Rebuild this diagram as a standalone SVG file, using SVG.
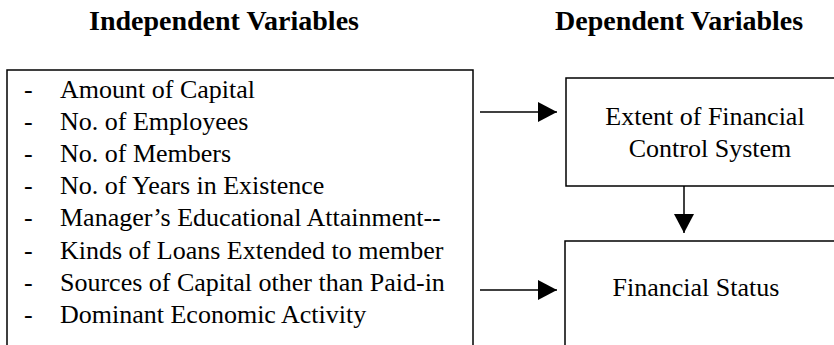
<svg xmlns="http://www.w3.org/2000/svg" width="834" height="345" viewBox="0 0 834 345">
<defs>
<style>
.box{fill:#fff;stroke:#000;stroke-width:1.5}
.c{stroke:#000;stroke-width:1.5;fill:none}
</style>
<marker id="ah" markerWidth="20" markerHeight="20" refX="19" refY="10" orient="auto" markerUnits="userSpaceOnUse">
<path d="M0,0 L19,10 L0,20 Z" fill="#000"/>
</marker>
</defs>
<rect width="834" height="345" fill="#fff"/>
<text font-family="Liberation Serif" font-size="28" font-weight="bold" x="89" y="30">Independent Variables</text>
<text font-family="Liberation Serif" font-size="28" font-weight="bold" x="555" y="30">Dependent Variables</text>
<g id="independent">
<rect class="box" x="7" y="70" width="466" height="290"/>
<text font-family="Liberation Serif" font-size="26" x="24" y="98">-</text>
<text font-family="Liberation Serif" font-size="26" x="60" y="98">Amount of Capital</text>
<text font-family="Liberation Serif" font-size="26" x="24" y="130">-</text>
<text font-family="Liberation Serif" font-size="26" x="60" y="130">No. of Employees</text>
<text font-family="Liberation Serif" font-size="26" x="24" y="162">-</text>
<text font-family="Liberation Serif" font-size="26" x="60" y="162">No. of Members</text>
<text font-family="Liberation Serif" font-size="26" x="24" y="194">-</text>
<text font-family="Liberation Serif" font-size="26" x="60" y="194">No. of Years in Existence</text>
<text font-family="Liberation Serif" font-size="26" x="24" y="226">-</text>
<text font-family="Liberation Serif" font-size="26" x="60" y="226">Manager’s Educational Attainment--</text>
<text font-family="Liberation Serif" font-size="26" x="24" y="259">-</text>
<text font-family="Liberation Serif" font-size="26" x="60" y="259">Kinds of Loans Extended to member</text>
<text font-family="Liberation Serif" font-size="26" x="24" y="291">-</text>
<text font-family="Liberation Serif" font-size="26" x="60" y="291">Sources of Capital other than Paid-in</text>
<text font-family="Liberation Serif" font-size="26" x="24" y="323">-</text>
<text font-family="Liberation Serif" font-size="26" x="60" y="323">Dominant Economic Activity</text>
</g>
<g id="extent">
<rect class="box" x="566" y="78" width="280" height="108"/>
<text font-family="Liberation Serif" font-size="26" x="705" y="125" text-anchor="middle">Extent of Financial</text>
<text font-family="Liberation Serif" font-size="26" x="710" y="157" text-anchor="middle">Control System</text>
</g>
<g id="status">
<rect class="box" x="565" y="241" width="280" height="120"/>
<text font-family="Liberation Serif" font-size="26" x="696" y="296" text-anchor="middle">Financial Status</text>
</g>
<g id="connectors">
<line class="c" x1="480" y1="112" x2="557" y2="112" marker-end="url(#ah)"/>
<line class="c" x1="480" y1="290" x2="557" y2="290" marker-end="url(#ah)"/>
<line class="c" x1="684" y1="186" x2="684" y2="233" marker-end="url(#ah)"/>
</g>
</svg>
